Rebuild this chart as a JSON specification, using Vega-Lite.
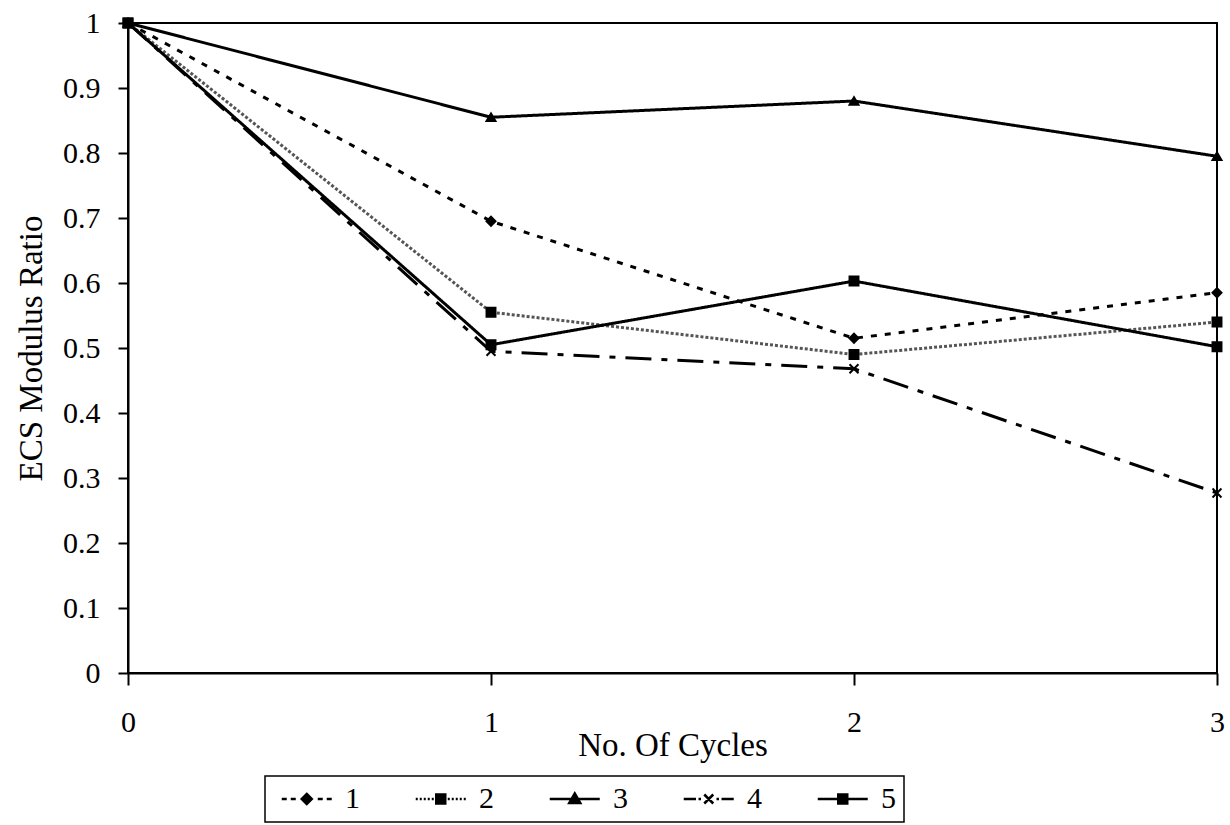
{
  "$schema": "https://vega.github.io/schema/vega-lite/v6.json",
  "width": 1089,
  "height": 650,
  "autosize": "none",
  "padding": {"left": 128, "top": 23, "right": 13, "bottom": 152},
  "background": "white",
  "config": {
    "font": "Liberation Serif",
    "view": {"stroke": "black", "strokeWidth": 2},
    "legend": {
      "orient": "none",
      "legendX": 137,
      "legendY": 753,
      "direction": "horizontal",
      "columns": 5,
      "strokeColor": "black",
      "strokeWidth": 1.5,
      "padding": 8,
      "titleFontSize": 0,
      "titlePadding": 0,
      "titleOrient": "left",
      "symbolSize": 100,
      "symbolStrokeWidth": 2.5,
      "symbolOpacity": 1,
      "symbolFillColor": "black",
      "symbolStrokeColor": "black",
      "labelFontSize": 30,
      "labelFont": "Liberation Serif",
      "labelColor": "black",
      "labelOffset": 42,
      "columnPadding": 47
    }
  },
  "data": {
    "values": [
      {"series": "1", "cycles": 0, "ratio": 1},
      {"series": "1", "cycles": 1, "ratio": 0.695},
      {"series": "1", "cycles": 2, "ratio": 0.515},
      {"series": "1", "cycles": 3, "ratio": 0.585},
      {"series": "2", "cycles": 0, "ratio": 1},
      {"series": "2", "cycles": 1, "ratio": 0.555},
      {"series": "2", "cycles": 2, "ratio": 0.49},
      {"series": "2", "cycles": 3, "ratio": 0.54},
      {"series": "3", "cycles": 0, "ratio": 1},
      {"series": "3", "cycles": 1, "ratio": 0.855},
      {"series": "3", "cycles": 2, "ratio": 0.88},
      {"series": "3", "cycles": 3, "ratio": 0.795},
      {"series": "4", "cycles": 0, "ratio": 1},
      {"series": "4", "cycles": 1, "ratio": 0.495},
      {"series": "4", "cycles": 2, "ratio": 0.468},
      {"series": "4", "cycles": 3, "ratio": 0.277},
      {"series": "5", "cycles": 0, "ratio": 1},
      {"series": "5", "cycles": 1, "ratio": 0.505},
      {"series": "5", "cycles": 2, "ratio": 0.603},
      {"series": "5", "cycles": 3, "ratio": 0.502}
    ]
  },
  "encoding": {
    "x": {
      "field": "cycles",
      "type": "quantitative",
      "scale": {"domain": [0, 3], "nice": false, "zero": false},
      "axis": {
        "title": "No. Of Cycles",
        "values": [0, 1, 2, 3],
        "format": "d",
        "grid": false,
        "labelFlush": false,
        "domainColor": "black",
        "domainWidth": 2,
        "tickColor": "black",
        "tickWidth": 2,
        "tickSize": 12,
        "labelFontSize": 30,
        "labelColor": "black",
        "labelPadding": 22,
        "titleFontSize": 33,
        "titleFontWeight": "normal",
        "titleColor": "black",
        "titlePadding": -8
      }
    },
    "y": {
      "field": "ratio",
      "type": "quantitative",
      "scale": {"domain": [0, 1], "nice": false},
      "axis": {
        "title": "ECS Modulus Ratio",
        "values": [0, 0.1, 0.2, 0.3, 0.4, 0.5, 0.6, 0.7, 0.8, 0.9, 1],
        "format": ".1~f",
        "grid": false,
        "domainColor": "black",
        "domainWidth": 2,
        "tickColor": "black",
        "tickWidth": 2,
        "tickSize": 10,
        "labelFontSize": 30,
        "labelColor": "black",
        "labelPadding": 18,
        "titleFontSize": 33,
        "titleFontWeight": "normal",
        "titleColor": "black",
        "titlePadding": 14
      }
    }
  },
  "layer": [
    {
      "mark": {"type": "line", "strokeWidth": 3},
      "encoding": {
        "detail": {"field": "series", "type": "nominal"},
        "strokeDash": {
          "field": "series",
          "type": "nominal",
          "scale": {"domain": ["1", "2", "3", "4", "5"], "range": [[6, 8], [3, 2], [1, 0], [26, 10, 6, 10], [1, 0]]},
          "legend": null
        },
        "stroke": {
          "field": "series",
          "type": "nominal",
          "scale": {"domain": ["1", "2", "3", "4", "5"], "range": ["black", "#555555", "black", "black", "black"]},
          "legend": null
        }
      }
    },
    {
      "mark": {"type": "point", "filled": true, "color": "black", "stroke": "black", "strokeWidth": 2, "size": 80, "opacity": 1},
      "encoding": {
        "shape": {
          "field": "series",
          "type": "nominal",
          "scale": {"domain": ["1", "2", "3", "4", "5"], "range": ["diamond", "square", "triangle-up", "M-1,-1L1,1M-1,1L1,-1", "square"]},
          "legend": null
        }
      }
    },
    {
      "mark": {"type": "point", "filled": false, "color": "black", "opacity": 0},
      "encoding": {
        "shape": {
          "field": "series",
          "type": "nominal",
          "scale": {
            "domain": ["1", "2", "3", "4", "5"],
            "range": [
              "M-1.25,0H-0.25M0.55,0H1.55M5.95,0H6.95M7.75,0H8.75M3.75,-1L4.75,0L3.75,1L2.75,0ZM3.75,-0.5L4.25,0L3.75,0.5L3.25,0ZM3.6,0H3.9",
              "M-1.25,0H-0.85M-0.45,0H-0.05M0.35,0H0.75M1.15,0H1.55M1.95,0H2.35M5.15,0H5.55M5.95,0H6.35M6.75,0H7.15M7.55,0H7.95M8.35,0H8.75M2.85,-0.9H4.65V0.9H2.85ZM3.35,-0.4H4.15V0.4H3.35ZM3.6,0H3.9",
              "M-1.25,0H8.75M3.75,-1.1L4.85,0.8L2.65,0.8ZM3.75,-0.4L4.25,0.5L3.25,0.5Z",
              "M-1.25,0H1.2M1.7,0H2.2M5.3,0H5.8M6.3,0H8.75M2.85,-0.9L4.65,0.9M2.85,0.9L4.65,-0.9",
              "M-1.25,0H8.75M2.85,-0.9H4.65V0.9H2.85ZM3.35,-0.4H4.15V0.4H3.35Z"
            ]
          },
          "legend": {
            "title": null,
            "encode": {
              "symbols": {
                "stroke": {"value": "black"},
                "strokeWidth": {"value": 2.5},
                "fill": {"value": "black"},
                "opacity": {"value": 1}
              }
            }
          }
        }
      }
    }
  ],
  "resolve": {"scale": {"shape": "independent"}, "legend": {"shape": "independent"}}
}
